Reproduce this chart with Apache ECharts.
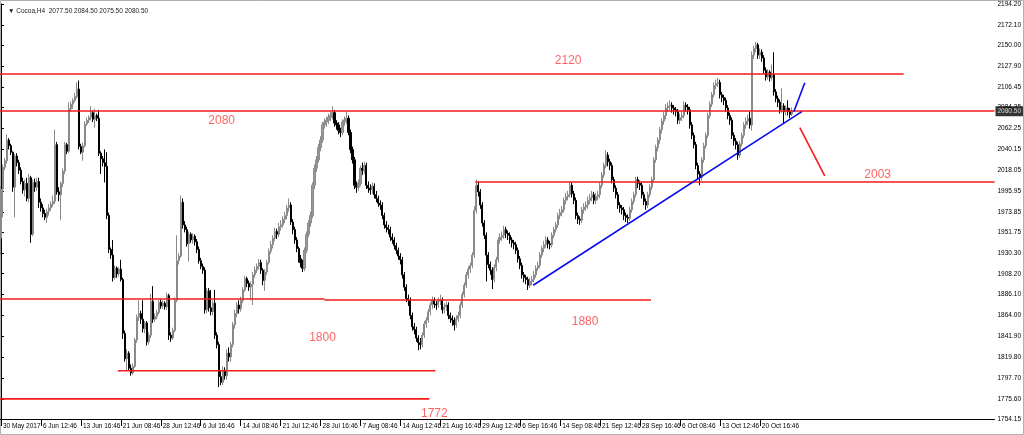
<!DOCTYPE html>
<html><head><meta charset="utf-8">
<script src="https://cdn.jsdelivr.net/npm/echarts@6/dist/echarts.min.js"></script>
<style>html,body{margin:0;padding:0;background:#fff}#c{width:1024px;height:435px}</style>
</head><body><div id="c"></div>
<script>
// ---- data ----
const title = '\u25BC Cocoa,H4  2077.50 2084.50 2075.50 2080.50';
const lastPrice = 2080.50;
const yTicks = [2194.20,2172.10,2150.00,2127.90,2106.45,2084.35,2062.25,2040.15,2018.05,1995.95,1973.85,1951.75,1930.30,1908.20,1886.10,1864.00,1841.90,1819.80,1797.70,1775.60,1754.15];
const timeLabels = ['30 May 2017','6 Jun 12:46','13 Jun 16:46','21 Jun 08:46','28 Jun 12:46','6 Jul 16:46','14 Jul 08:46','21 Jul 12:46','28 Jul 16:46','7 Aug 08:46','14 Aug 12:46','21 Aug 16:46','29 Aug 12:46','6 Sep 16:46','14 Sep 08:46','21 Sep 12:46','28 Sep 16:46','6 Oct 08:46','13 Oct 12:46','20 Oct 16:46'];
const barsPerLabel = 20;
const totalSlots = 498;
// candles: [open, close, low, high]
const candles = [
[1946,1998,1928,2001],[1998,2021,1968,2024],[2021,2028,2018,2031],[2028,2050,2025,2056],[2050,2044,2040,2052],
[2044,2037,2034,2046],[2037,2000,1995,2038],[2000,2033,1968,2035],[2033,2026,2022,2036],[2026,2018,2014,2029],
[2018,2006,2003,2021],[2006,1997,1993,2010],[1997,2004,1990,2008],[2004,1988,1985,2010],[1988,2010,1984,2014],
[2010,1950,1941,2012],[1950,2005,1948,2008],[2005,2000,1995,2009],[2000,2006,1996,2010],[2006,1984,1978,2010],
[1984,1978,1974,1988],[1978,1972,1968,1982],[1972,1968,1965,1976],[1968,1974,1962,1977],[1974,1978,1970,1982],
[1978,1982,1975,1985],[1982,1985,1979,1991],[1985,2045,1982,2061],[2045,1995,1992,2048],[1995,1992,1985,2000],
[1992,2004,1965,2006],[2004,2017,2000,2020],[2017,2045,2014,2048],[2045,2038,2035,2047],[2038,2083,2036,2090],
[2083,2088,2080,2091],[2088,2092,2083,2094],[2092,2096,2090,2100],[2096,2104,2094,2111],[2104,2043,2040,2113],
[2043,2037,2035,2046],[2037,2044,2028,2047],[2044,2067,2042,2070],[2067,2071,2065,2074],[2071,2074,2068,2076],
[2074,2079,2071,2086],[2079,2072,2069,2081],[2072,2076,2063,2083],[2076,2073,2070,2078],[2073,2036,2033,2082],
[2036,2030,2014,2038],[2030,2026,2022,2033],[2026,2022,2005,2040],[2022,1970,1966,2037],[1970,1934,1930,1973],
[1934,1928,1924,1936],[1928,1904,1900,1944],[1904,1914,1902,1917],[1914,1908,1904,1916],[1908,1913,1905,1915],
[1913,1902,1900,1923],[1902,1845,1839,1904],[1845,1818,1815,1848],[1818,1824,1805,1828],[1824,1808,1805,1826],
[1808,1803,1800,1812],[1803,1810,1801,1813],[1810,1838,1808,1840],[1838,1862,1835,1865],[1862,1866,1858,1880],
[1866,1860,1855,1869],[1860,1850,1846,1880],[1850,1856,1845,1858],[1856,1836,1832,1858],[1836,1843,1833,1846],
[1843,1879,1840,1887],[1879,1860,1856,1895],[1860,1863,1857,1866],[1863,1867,1860,1870],[1867,1878,1865,1880],
[1878,1874,1871,1881],[1874,1877,1871,1880],[1877,1873,1870,1879],[1873,1885,1870,1888],[1885,1843,1838,1887],
[1843,1840,1836,1846],[1840,1848,1838,1851],[1848,1880,1846,1883],[1880,1922,1878,1949],[1922,1927,1918,1930],
[1927,1984,1925,1991],[1984,1960,1956,1988],[1960,1955,1952,1964],[1955,1940,1937,1958],[1940,1950,1921,1953],
[1950,1944,1941,1952],[1944,1948,1940,1951],[1948,1942,1938,1950],[1942,1934,1930,1945],[1934,1922,1919,1937],
[1922,1916,1913,1925],[1916,1912,1908,1919],[1912,1870,1866,1915],[1870,1890,1866,1893],[1890,1872,1868,1893],
[1872,1868,1864,1891],[1868,1877,1864,1880],[1877,1843,1839,1891],[1843,1833,1829,1846],[1833,1799,1788,1836],
[1799,1793,1790,1806],[1793,1806,1790,1810],[1806,1800,1796,1809],[1800,1824,1796,1828],[1824,1820,1815,1830],
[1820,1833,1815,1836],[1833,1854,1830,1857],[1854,1866,1850,1870],[1866,1875,1862,1878],[1875,1871,1866,1880],
[1871,1880,1868,1884],[1880,1891,1877,1894],[1891,1903,1889,1906],[1903,1898,1894,1905],[1898,1894,1890,1901],
[1894,1897,1880,1900],[1897,1907,1875,1910],[1907,1912,1904,1916],[1912,1916,1909,1919],[1916,1920,1913,1924],
[1920,1912,1908,1923],[1912,1901,1896,1914],[1901,1910,1890,1913],[1910,1920,1907,1923],[1920,1932,1918,1935],
[1932,1939,1929,1943],[1939,1946,1935,1949],[1946,1953,1943,1957],[1953,1950,1945,1956],[1950,1958,1947,1962],
[1958,1960,1954,1965],[1960,1966,1957,1969],[1966,1970,1962,1974],[1970,1978,1966,1981],[1978,1981,1974,1988],
[1981,1963,1960,1984],[1963,1955,1950,1966],[1955,1944,1940,1958],[1944,1935,1931,1947],[1935,1924,1920,1937],
[1924,1920,1915,1928],[1920,1914,1910,1923],[1914,1933,1911,1936],[1933,1950,1930,1953],[1950,1962,1947,1965],
[1962,1970,1958,1974],[1970,2002,1967,2005],[2002,2020,1998,2024],[2020,2029,2016,2033],[2029,2042,2026,2046],
[2042,2050,2038,2054],[2050,2066,2047,2069],[2066,2069,2062,2073],[2069,2071,2064,2075],[2071,2074,2067,2078],
[2074,2076,2070,2080],[2076,2079,2072,2086],[2079,2068,2064,2082],[2068,2066,2061,2071],[2066,2060,2056,2069],
[2060,2058,2053,2063],[2058,2069,2055,2072],[2069,2071,2065,2075],[2071,2073,2067,2080],[2073,2058,2055,2076],
[2058,2040,2036,2061],[2040,2029,2025,2043],[2029,2002,1998,2032],[2002,2000,1994,2006],[2000,2004,1996,2008],
[2004,2020,2001,2023],[2020,2018,2013,2026],[2018,2023,2014,2027],[2023,2002,1998,2026],[2002,1999,1994,2006],
[1999,1997,1992,2003],[1997,2001,1993,2005],[2001,1992,1988,2004],[1992,1988,1984,1996],[1988,1983,1979,1991],
[1983,1981,1976,1986],[1981,1970,1966,1984],[1970,1960,1956,1973],[1960,1957,1952,1964],[1957,1955,1950,1960],
[1955,1947,1943,1958],[1947,1944,1940,1951],[1944,1938,1934,1947],[1938,1933,1929,1941],[1933,1927,1923,1936],
[1927,1923,1918,1930],[1923,1907,1903,1926],[1907,1894,1890,1910],[1894,1882,1878,1897],[1882,1880,1874,1886],
[1880,1864,1860,1883],[1864,1852,1848,1867],[1852,1849,1844,1856],[1849,1840,1836,1852],[1840,1835,1827,1843],
[1835,1833,1828,1840],[1833,1843,1830,1846],[1843,1855,1840,1858],[1855,1859,1851,1862],[1859,1868,1856,1871],
[1868,1875,1864,1878],[1875,1880,1871,1884],[1880,1876,1872,1883],[1876,1875,1870,1879],[1875,1879,1872,1883],
[1879,1880,1875,1886],[1880,1870,1866,1883],[1870,1873,1866,1877],[1873,1875,1869,1879],[1875,1864,1860,1878],
[1864,1861,1856,1867],[1861,1859,1853,1864],[1859,1854,1848,1862],[1854,1860,1851,1864],[1860,1864,1857,1868],
[1864,1875,1861,1878],[1875,1886,1872,1889],[1886,1896,1883,1899],[1896,1907,1893,1910],[1907,1913,1903,1916],
[1913,1917,1909,1920],[1917,1928,1914,1931],[1928,1975,1925,1980],[1975,2002,1972,2008],[2002,1995,1990,2006],
[1995,1981,1977,1998],[1981,1962,1958,1984],[1962,1949,1945,1965],[1949,1928,1900,1952],[1928,1918,1914,1931],
[1918,1912,1907,1921],[1912,1902,1892,1915],[1902,1915,1899,1918],[1915,1923,1911,1926],[1923,1944,1920,1947],
[1944,1947,1940,1951],[1947,1949,1943,1953],[1949,1955,1945,1959],[1955,1951,1946,1958],[1951,1949,1944,1954],
[1949,1944,1940,1952],[1944,1941,1936,1947],[1941,1939,1934,1944],[1939,1933,1929,1942],[1933,1924,1920,1936],
[1924,1917,1913,1927],[1917,1907,1903,1920],[1907,1904,1899,1910],[1904,1902,1897,1907],[1902,1896,1891,1905],
[1896,1900,1893,1904],[1900,1902,1896,1906],[1902,1907,1899,1911],[1907,1914,1904,1917],[1914,1917,1911,1921],
[1917,1928,1914,1931],[1928,1935,1925,1938],[1935,1939,1931,1943],[1939,1944,1936,1948],[1944,1940,1935,1947],
[1940,1939,1934,1943],[1939,1949,1936,1952],[1949,1955,1946,1958],[1955,1960,1952,1963],[1960,1970,1957,1973],
[1970,1973,1966,1977],[1973,1976,1969,1980],[1976,1986,1973,1989],[1986,1990,1982,1994],[1990,1992,1986,1996],
[1992,2002,1989,2006],[2002,1993,1989,2005],[1993,1986,1982,1996],[1986,1970,1966,1989],[1970,1966,1961,1973],
[1966,1965,1960,1969],[1965,1976,1962,1979],[1976,1979,1972,1983],[1979,1981,1975,1985],[1981,1986,1977,1990],
[1986,1989,1982,1993],[1989,1992,1985,1996],[1992,1986,1982,1995],[1986,1990,1982,1994],[1990,1992,1986,1996],
[1992,2002,1988,2005],[2002,2013,1999,2016],[2013,2023,2010,2026],[2023,2034,2020,2039],[2034,2027,2022,2037],
[2027,2023,2018,2030],[2023,2008,2004,2026],[2008,1999,1995,2011],[1999,1992,1988,2002],[1992,1981,1977,1995],
[1981,1978,1973,1984],[1978,1976,1971,1981],[1976,1970,1965,1979],[1970,1968,1963,1973],[1968,1967,1962,1971],
[1967,1976,1964,1979],[1976,1985,1973,1988],[1985,1992,1982,1995],[1992,2008,1989,2011],[2008,2004,1999,2011],
[2004,2002,1997,2007],[2002,1992,1988,2005],[1992,1985,1981,1995],[1985,1981,1976,1988],[1981,1992,1978,1995],
[1992,2000,1989,2003],[2000,2008,1997,2011],[2008,2029,2005,2032],[2029,2042,2026,2045],[2042,2050,2038,2053],
[2050,2061,2046,2064],[2061,2070,2057,2073],[2070,2076,2066,2080],[2076,2084,2072,2088],[2084,2086,2080,2090],
[2086,2087,2082,2092],[2087,2084,2079,2090],[2084,2082,2077,2087],[2082,2080,2075,2085],[2080,2071,2067,2083],
[2071,2074,2067,2078],[2074,2076,2070,2080],[2076,2087,2073,2091],[2087,2085,2080,2090],[2085,2082,2077,2088],
[2082,2066,2062,2085],[2066,2055,2051,2069],[2055,2045,2041,2058],[2045,2023,2019,2048],[2023,2014,2008,2026],
[2014,2010,2002,2017],[2010,2029,2007,2032],[2029,2044,2026,2047],[2044,2055,2041,2058],[2055,2076,2052,2079],
[2076,2088,2073,2091],[2088,2098,2085,2101],[2098,2108,2095,2111],[2108,2110,2104,2114],[2110,2111,2106,2116],
[2111,2098,2094,2114],[2098,2095,2090,2101],[2095,2092,2087,2098],[2092,2084,2080,2095],[2084,2076,2072,2087],
[2076,2071,2066,2079],[2071,2055,2051,2074],[2055,2049,2044,2058],[2049,2045,2040,2052],[2045,2034,2029,2048],
[2034,2046,2031,2049],[2046,2055,2043,2058],[2055,2066,2052,2069],[2066,2070,2062,2074],[2070,2073,2066,2077],
[2073,2066,2062,2080],[2066,2140,2060,2144],[2140,2147,2136,2150],[2147,2151,2143,2154],[2151,2140,2136,2153],
[2140,2143,2136,2147],[2143,2137,2133,2146],[2137,2124,2120,2140],[2124,2117,2113,2127],[2117,2122,2114,2125],
[2122,2116,2112,2124],[2116,2119,2113,2130],[2119,2101,2097,2143],[2101,2094,2090,2104],[2094,2090,2085,2097],
[2090,2082,2078,2093],[2082,2086,2079,2105],[2086,2080,2068,2089],[2080,2084,2076,2087],[2084,2080,2076,2092],
[2080,2077,2073,2084],[2077.5,2080.5,2075.5,2084.5]
];
// drawn annotation lines: [barIndexStart, priceStart, barIndexEnd, priceEnd]
const redLines = [
  [-0.5,2120.0,452,2120.0],
  [-0.5,2080.7,497.5,2080.7],
  [237.5,2005.5,497.5,2005.5],
  [-0.5,1881.4,162,1881.4],
  [162,1880.4,325.5,1880.4],
  [58.5,1805.3,217.5,1805.3],
  [-0.5,1775.5,214.5,1775.5],
  [400,2063,412.5,2012]
];
const blueLines = [
  [266.5,1896,401,2080],
  [397,2080,402.5,2110.7]
];
// annotation texts: [text, barIndex, price]
const notes = [
  ['2120',284,2134.5],['2080',110.5,2070],['2003',439,2013],
  ['1880',292.5,1857],['1800',161,1840],['1772',217,1760]
];

// ---- chart ----
const cats = [];
for (let i = 0; i < totalSlots; i++) {
  cats.push(i % barsPerLabel === 0 && (i / barsPerLabel) < timeLabels.length ? timeLabels[i / barsPerLabel] : '');
}
const showIdx = (idx) => cats[idx] !== '';
const font = 'Liberation Sans';
const series = [{
  type: 'candlestick',
  xAxisIndex: 0, yAxisIndex: 0,
  data: candles,
  barWidth: 1.6,
  itemStyle: { color: '#9a9a9a', color0: '#000', borderColor: '#8a8a8a', borderColor0: '#000', borderWidth: 1 },
  z: 3
}];
redLines.forEach(l => series.push({
  type: 'line', xAxisIndex: 1, yAxisIndex: 0, data: [[l[0], l[1]], [l[2], l[3]]],
  symbol: 'none', silent: true, lineStyle: { color: '#f41a1a', width: 1.6 }, z: 4
}));
blueLines.forEach(l => series.push({
  type: 'line', xAxisIndex: 1, yAxisIndex: 0, data: [[l[0], l[1]], [l[2], l[3]]],
  symbol: 'none', silent: true, lineStyle: { color: '#0a0af0', width: 1.6 }, z: 4
}));
series.push({
  type: 'scatter', xAxisIndex: 1, yAxisIndex: 0, symbolSize: 0, silent: true,
  data: notes.map(n => ({ value: [n[1], n[2]], name: n[0] })),
  label: { show: true, position: 'inside', formatter: p => p.name, color: '#ff3b3b', fontSize: 12, fontFamily: 'Liberation Sans' },
  z: 5
});
// last price tag on the price axis
series.push({
  type: 'scatter', xAxisIndex: 1, yAxisIndex: 0, symbolSize: 0, silent: true, clip: false,
  data: [[totalSlots - 0.5, lastPrice]],
  label: { show: true, position: 'right', distance: 1, formatter: lastPrice.toFixed(2),
    backgroundColor: '#000', color: '#fff', fontSize: 6.5, fontFamily: font, padding: [2, 2, 1, 2] },
  z: 20, zlevel: 1
});

const chart = echarts.init(document.getElementById('c'), null, { renderer: 'canvas' });
chart.setOption({
  animation: false,
  backgroundColor: '#fff',
  title: { text: title, left: 3, top: 3, textStyle: { fontSize: 6.5, fontWeight: 'normal', color: '#222', fontFamily: font } },
  grid: { left: 0, right: 28, top: 4, bottom: 16 },
  xAxis: [{
    type: 'category', data: cats, boundaryGap: true,
    axisLine: { lineStyle: { color: '#000', width: 1 } },
    axisTick: { show: true, interval: showIdx, alignWithLabel: true, length: 7, lineStyle: { color: '#000' } },
    axisLabel: { show: true, interval: showIdx, showMinLabel: true, align: 'left', margin: 4, padding: [0, 0, 0, 2],
      fontSize: 6.5, color: '#000', fontFamily: font },
    splitLine: { show: false }
  }, {
    type: 'value', min: -0.5, max: totalSlots - 0.5, show: false
  }],
  yAxis: [{
    type: 'value', position: 'right', min: 1754.15, max: 2194.20, scale: true,
    axisLine: { show: true, lineStyle: { color: '#000', width: 1 } },
    axisTick: { show: true, length: 3, lineStyle: { color: '#000' }, customValues: yTicks },
    axisLabel: { show: true, margin: 3, fontSize: 6.5, color: '#000', fontFamily: font,
      customValues: yTicks, formatter: v => Number(v).toFixed(2) },
    splitLine: { show: false }
  }],
  graphic: [{ type: 'rect', shape: { x: 0.5, y: 0.5, width: 1023, height: 434 }, style: { fill: null, stroke: '#b0b0b0', lineWidth: 1 }, silent: true, z: -1 }],
  series: series
});
</script></body></html>
